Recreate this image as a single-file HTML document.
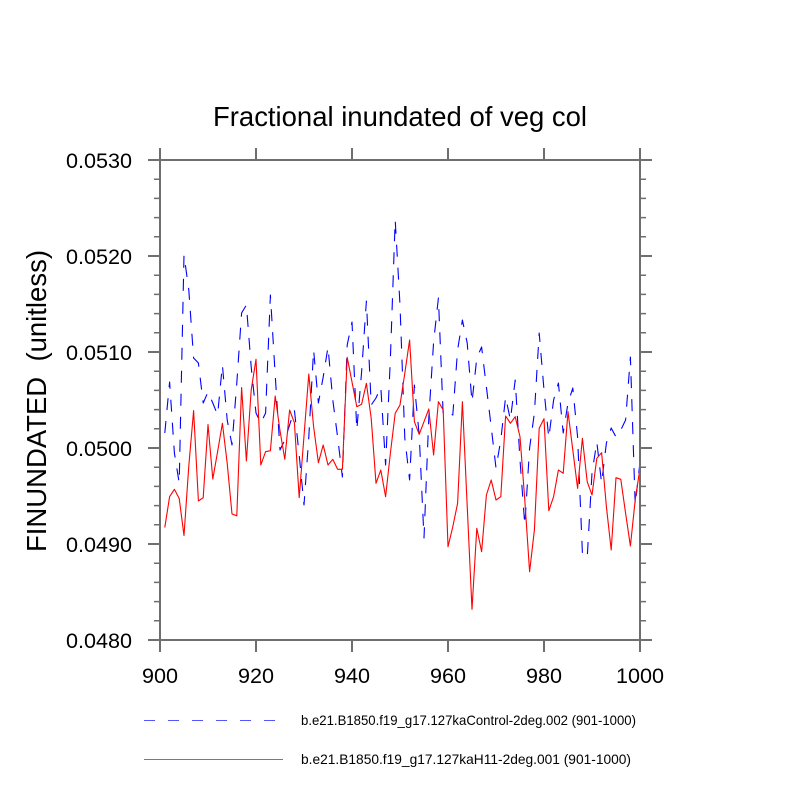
<!DOCTYPE html>
<html>
<head>
<meta charset="utf-8">
<style>
  html, body { margin: 0; padding: 0; background: #ffffff; }
  svg { display: block; }
  text { font-family: "Liberation Sans", "DejaVu Sans", sans-serif; fill: #000; }
</style>
</head>
<body>
<svg width="800" height="800" viewBox="0 0 800 800" xmlns="http://www.w3.org/2000/svg">
  <rect x="0" y="0" width="800" height="800" fill="#ffffff"/>

  <!-- Title -->
  <text x="400" y="126" font-size="27.5" text-anchor="middle" textLength="374" lengthAdjust="spacingAndGlyphs">Fractional inundated of veg col</text>

  <!-- Y axis label -->
  <text transform="translate(46,401) rotate(-90)" x="0" y="0" font-size="27.3" text-anchor="middle" textLength="302" lengthAdjust="spacingAndGlyphs" xml:space="preserve">FINUNDATED  (unitless)</text>

  <!-- Data series -->
  <polyline fill="none" stroke="#0000ff" stroke-width="1.1" stroke-dasharray="12 11" stroke-linejoin="round"
    points="164.8,433 169.6,382 174.4,453 179.2,483 184,255 188.8,290 193.6,358 198.4,363 203.2,403 208,392 212.8,403 217.6,415 222.4,365 227.2,420 232,445 236.8,383 241.6,313 246.4,305 251.2,367 256,413 260.8,423 265.6,413 270.4,295 275.2,375 280,450 284.8,440 289.6,425 294.4,410 299.2,455 304,505 308.8,437 313.6,350 318.4,403 323.2,377 328,347 332.8,400 337.6,437 342.4,477 347.2,345 352,322 356.8,430 361.6,372 366.4,301 371.2,405 376,398 380.8,387 385.6,465 390.4,358 395.2,220 400,305 404.8,438 409.6,480 414.4,385 419.2,435 424,538 428.8,418 433.6,342 438.4,298 443.2,415 448,413 452.8,415 457.6,350 462.4,320 467.2,343 472,402 476.8,358 481.6,347 486.4,387 491.2,427 496,468 500.8,440 505.6,397 510.4,420 515.2,380 520,460 524.8,525 529.6,448 534.4,413 539.2,333 544,390 548.8,438 553.6,400 558.4,383 563.2,433 568,403 572.8,388 577.6,437 582.4,553 587.2,558 592,473 596.8,442 601.6,483 606.4,443 611.2,428 616,437 620.8,430 625.6,420 630.4,357 635.2,505 640,462"/>

  <polyline fill="none" stroke="#ff0000" stroke-width="1.1" stroke-linejoin="round"
    points="164.8,527.5 169.6,496.7 174.4,489.3 179.2,498.5 184,535.5 188.8,466 193.6,410.7 198.4,501 203.2,497.7 208,424.5 212.8,479 217.6,451.7 222.4,423.3 227.2,463.3 232,514 236.8,515.8 241.6,387.5 246.4,461 251.2,390 256,359.3 260.8,465 265.6,451.7 270.4,450.7 275.2,396 280,430.7 284.8,459.3 289.6,410 294.4,422.7 299.2,497.7 304,436 308.8,374 313.6,426.7 318.4,462.7 323.2,445 328,465 332.8,459.3 337.6,469.3 342.4,469.3 347.2,357.3 352,382 356.8,406.7 361.6,404.3 366.4,383.3 371.2,418.3 376,483.3 380.8,470 385.6,496.7 390.4,453 395.2,413.3 400,405 404.8,373.3 409.6,340 414.4,421.7 419.2,434.3 424,421.7 428.8,409 433.6,455 438.4,401.7 443.2,410 448,546.7 452.8,526.7 457.6,503.3 462.4,401.7 467.2,506 472,609.3 476.8,528.3 481.6,551.7 486.4,495 491.2,480 496,500 500.8,496.7 505.6,416 510.4,423.3 515.2,416.7 520,436.7 524.8,500 529.6,571.7 534.4,530 539.2,428.3 544,418.7 548.8,510.7 553.6,496.7 558.4,470 563.2,473.3 568,411.7 572.8,450 577.6,488.3 582.4,438.3 587.2,481.7 592,495 596.8,458.3 601.6,452.7 606.4,506.7 611.2,550 616,477.7 620.8,479.3 625.6,513.3 630.4,546 635.2,500 640,468"/>

  <!-- Frame -->
  <g stroke="#6e6e6e" stroke-width="2" fill="none">
    <rect x="160" y="160" width="480" height="480"/>
    <path d="M148,160H160 M148,256H160 M148,352H160 M148,448H160 M148,544H160 M148,640H160"/>
    <path d="M640,160H652 M640,256H652 M640,352H652 M640,448H652 M640,544H652 M640,640H652"/>
    <path d="M160,148V160 M256,148V160 M352,148V160 M448,148V160 M544,148V160 M640,148V160"/>
    <path d="M160,640V652 M256,640V652 M352,640V652 M448,640V652 M544,640V652 M640,640V652"/>
  </g>
  <g stroke="#6e6e6e" stroke-width="1.5" fill="none">
    <path d="M154,179.2H160 M154,198.4H160 M154,217.6H160 M154,236.8H160
             M154,275.2H160 M154,294.4H160 M154,313.6H160 M154,332.8H160
             M154,371.2H160 M154,390.4H160 M154,409.6H160 M154,428.8H160
             M154,467.2H160 M154,486.4H160 M154,505.6H160 M154,524.8H160
             M154,563.2H160 M154,582.4H160 M154,601.6H160 M154,620.8H160"/>
    <path d="M640,179.2H646 M640,198.4H646 M640,217.6H646 M640,236.8H646
             M640,275.2H646 M640,294.4H646 M640,313.6H646 M640,332.8H646
             M640,371.2H646 M640,390.4H646 M640,409.6H646 M640,428.8H646
             M640,467.2H646 M640,486.4H646 M640,505.6H646 M640,524.8H646
             M640,563.2H646 M640,582.4H646 M640,601.6H646 M640,620.8H646"/>
  </g>

  <!-- Y tick labels -->
  <g font-size="21.6" text-anchor="end">
    <text x="132" y="168">0.0530</text>
    <text x="132" y="264">0.0520</text>
    <text x="132" y="360">0.0510</text>
    <text x="132" y="456">0.0500</text>
    <text x="132" y="552">0.0490</text>
    <text x="132" y="648">0.0480</text>
  </g>

  <!-- X tick labels -->
  <g font-size="21.6" text-anchor="middle">
    <text x="160" y="683">900</text>
    <text x="256" y="683">920</text>
    <text x="352" y="683">940</text>
    <text x="448" y="683">960</text>
    <text x="544" y="683">980</text>
    <text x="640" y="683">1000</text>
  </g>

  <!-- Legend -->
  <line x1="144" y1="720.5" x2="276" y2="720.5" stroke="#5555ff" stroke-width="1" stroke-dasharray="11 13"/>
  <text x="301" y="725" font-size="13.7" textLength="335" lengthAdjust="spacingAndGlyphs">b.e21.B1850.f19_g17.127kaControl-2deg.002 (901-1000)</text>
  <line x1="144" y1="759.5" x2="283" y2="759.5" stroke="#ff4040" stroke-width="1"/>
  <text x="301" y="764" font-size="13.7" textLength="330" lengthAdjust="spacingAndGlyphs">b.e21.B1850.f19_g17.127kaH11-2deg.001 (901-1000)</text>
</svg>
</body>
</html>
